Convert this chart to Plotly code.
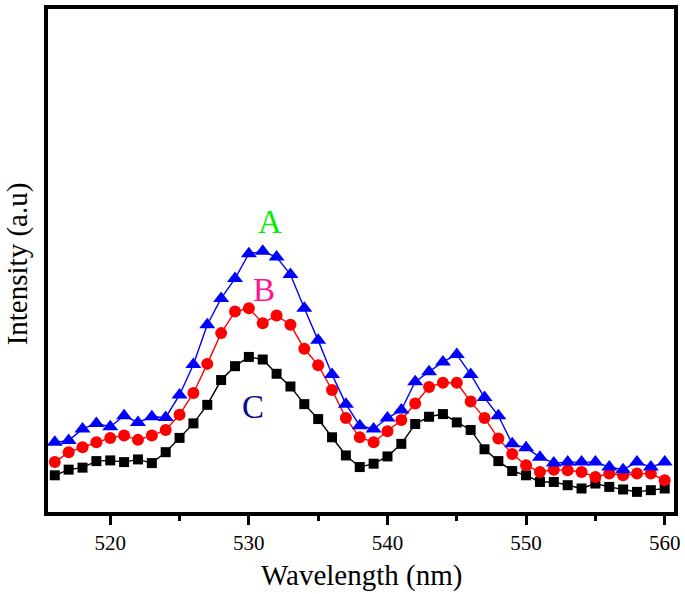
import plotly.graph_objects as go

wavelength = list(range(516, 561))

intensity_A = [70.3, 72, 83.7, 89.3, 86, 97, 90.3, 96, 95.3, 118, 148.7, 188.7, 215.3, 235.3,
               260.3, 262.7, 257, 239.3, 205.3, 173, 138.7, 108.7, 87, 83.7, 94.7, 102.7, 131.3,
               141.3, 151.3, 158.7, 138.7, 115.3, 97, 68.7, 64.7, 55.3, 49.3, 50.3, 50.3, 50.3,
               45.3, 42.7, 50.3, 45.3, 50.3]
intensity_B = [50.3, 60.3, 65.3, 70.3, 74.7, 77, 72.7, 77, 82.7, 98, 120, 149.3, 180.3, 202,
               205.3, 190.3, 198, 188.7, 164.5, 148, 123, 94.7, 75.3, 70.3, 81.3, 92.7, 109.3,
               126, 130.3, 130.3, 111.3, 94.7, 74.2, 58.5, 47, 40.3, 42.7, 42, 40.3, 35.3, 38.7,
               37, 38.7, 38.7, 32]
intensity_C = [37, 42.7, 44.7, 51.3, 52, 50.3, 53, 49.3, 60.3, 74.7, 89.3, 108, 133, 147,
               156.3, 153.7, 139.3, 126.5, 108.7, 93.7, 75.3, 57, 45.3, 48.7, 56, 68.7, 88.7,
               96, 98.7, 90.3, 82.7, 63.2, 51.3, 41.3, 37, 30.3, 30.3, 27, 23.7, 28.7, 25.3,
               22.7, 20.3, 22, 23.7]

labels = ["A", "B", "C"]
label_x = [531.5, 531.1, 530.3]
label_y = [292, 224, 106]
label_colors = ["#00EE00", "#FF1493", "#0A0A8C"]

FONT = "Liberation Serif, Times New Roman, serif"

fig = go.Figure()
fig.add_trace(go.Scatter(x=wavelength, y=intensity_C, mode="lines+markers",
                         line=dict(color="black", width=1.4),
                         marker=dict(symbol="square", size=10, color="black")))
fig.add_trace(go.Scatter(x=wavelength, y=intensity_B, mode="lines+markers",
                         line=dict(color="#FF0000", width=1.4),
                         marker=dict(symbol="circle", size=12, color="#FF0000")))
fig.add_trace(go.Scatter(x=wavelength, y=intensity_A, mode="lines+markers",
                         line=dict(color="#0000FF", width=1.4),
                         marker=dict(symbol="triangle-up", size=14, color="#0000FF")))

for t, lx, ly, c in zip(labels, label_x, label_y, label_colors):
    fig.add_annotation(x=lx, y=ly, text=t, showarrow=False,
                       font=dict(family=FONT, size=33, color=c))

fig.add_annotation(xref="paper", yref="paper", x=0.5, y=-0.1262, text="Wavelength (nm)",
                   showarrow=False, yanchor="middle", xanchor="center",
                   font=dict(family=FONT, size=29, color="black"))
fig.add_annotation(xref="paper", yref="paper", x=-0.049, y=0.493, text="Intensity (a.u)",
                   showarrow=False, textangle=-90, yanchor="middle", xanchor="center",
                   font=dict(family=FONT, size=29, color="black"))

fig.update_layout(
    width=685, height=594,
    margin=dict(l=48, r=8, t=5, b=82),
    paper_bgcolor="white", plot_bgcolor="white",
    showlegend=False,
    font=dict(family=FONT, color="black"),
    xaxis=dict(range=[515.51, 560.67], tick0=520, dtick=10, ticks="outside",
               ticklen=9, tickwidth=3, tickcolor="black",
               minor=dict(dtick=5, ticks="outside", ticklen=5, tickwidth=3, tickcolor="black"),
               showline=True, linecolor="black", linewidth=4, mirror=True,
               showgrid=False, zeroline=False,
               tickfont=dict(family=FONT, size=21, color="black")),
    yaxis=dict(range=[0, 507], showticklabels=False, ticks="",
               showline=True, linecolor="black", linewidth=4, mirror=True,
               showgrid=False, zeroline=False),
)

fig.write_html("out.html", config={"displayModeBar": False},
               post_script="document.body.style.margin='0';document.body.style.padding='0';")
